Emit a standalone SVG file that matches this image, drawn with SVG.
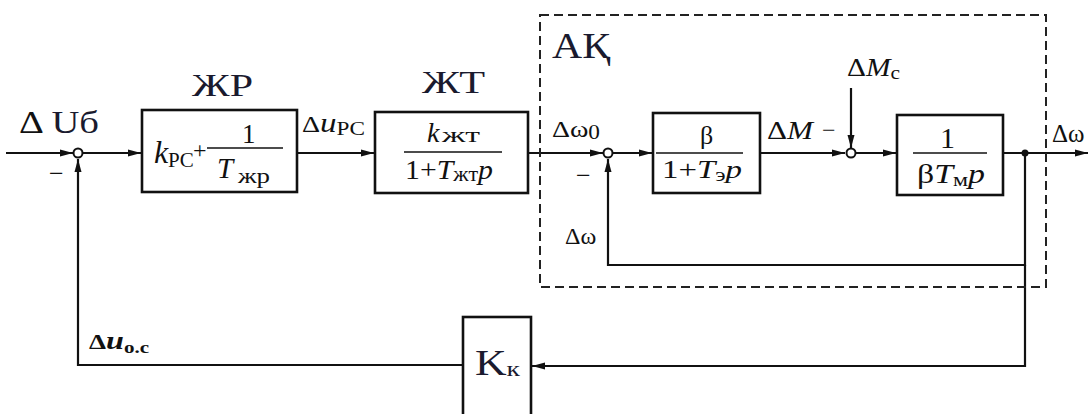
<svg xmlns="http://www.w3.org/2000/svg" width="1089" height="414" viewBox="0 0 1089 414">
<style>
.ln{fill:none;stroke:#111;stroke-width:2.2}
.bx{fill:#fff;stroke:#111;stroke-width:2.6}
.sj{fill:#fff;stroke:#111;stroke-width:2}
.t{font-family:"Liberation Serif",serif;fill:#111}
.i{font-style:italic}
.big{font-family:"Liberation Serif",serif;fill:#1a1a2e}
.frac{stroke:#111;stroke-width:1.6}
</style>
<defs>
<marker id="ar" markerWidth="14" markerHeight="10" refX="13" refY="5" orient="auto" markerUnits="userSpaceOnUse">
<path d="M0,1.5 L13,5 L0,8.5 Z" fill="#111"/>
</marker>
</defs>

<g id="connectors">
<line class="ln" x1="6" y1="153" x2="73" y2="153" marker-end="url(#ar)"/>
<line class="ln" x1="83" y1="153" x2="141" y2="153" marker-end="url(#ar)"/>
<line class="ln" x1="297" y1="153" x2="374" y2="153" marker-end="url(#ar)"/>
<line class="ln" x1="528" y1="153" x2="603" y2="153" marker-end="url(#ar)"/>
<line class="ln" x1="613" y1="153" x2="652" y2="153" marker-end="url(#ar)"/>
<line class="ln" x1="760" y1="153" x2="845" y2="153" marker-end="url(#ar)"/>
<line class="ln" x1="855" y1="153" x2="896" y2="153" marker-end="url(#ar)"/>
<line class="ln" x1="851" y1="88" x2="851" y2="148" marker-end="url(#ar)"/>
<line class="ln" x1="1003" y1="153" x2="1088" y2="153" marker-end="url(#ar)"/>
<polyline class="ln" points="1025,153 1025,265 608,265 608,159" marker-end="url(#ar)"/>
<polyline class="ln" points="1025,265 1025,366 532,366" marker-end="url(#ar)"/>
<polyline class="ln" points="463,365 78,365 78,159" marker-end="url(#ar)"/>
<circle cx="1025" cy="153" r="3.5" fill="#111"/>
</g>

<g id="ak">
<rect x="540" y="15" width="506" height="272" fill="none" stroke="#222" stroke-width="2" stroke-dasharray="9,5"/>
<text class="big" x="552" y="58" font-size="35" textLength="58" lengthAdjust="spacingAndGlyphs">АҚ</text>
</g>

<g id="sum1">
<circle class="sj" cx="78" cy="153" r="4.5"/>
<text class="t" x="19" y="133" font-size="32" textLength="80" lengthAdjust="spacingAndGlyphs">Δ <tspan fill="#1a1a2e">Uб</tspan></text>
<text class="t" x="49" y="182" font-size="26">−</text>
</g>

<g id="zhr">
<text class="big" x="192" y="96" font-size="31" textLength="61" lengthAdjust="spacingAndGlyphs">ЖР</text>
<rect class="bx" x="142" y="110" width="155" height="82"/>
<text class="t i" x="154" y="163" font-size="32">k</text>
<text class="t" x="168" y="167" font-size="21">PC</text>
<text class="t" x="193" y="158" font-size="24">+</text>
<line class="frac" x1="207" y1="148" x2="283" y2="148"/>
<text class="t" x="242" y="143" font-size="27">1</text>
<text class="t i" x="217" y="178" font-size="29">T</text>
<text class="t" x="238" y="183" font-size="22" textLength="32" lengthAdjust="spacingAndGlyphs">жр</text>
</g>

<g id="lbl-upc">
<text class="t" x="302" y="132" font-size="23" textLength="63" lengthAdjust="spacingAndGlyphs">Δ<tspan class="i" font-size="27">u</tspan><tspan font-size="19" dy="3">PC</tspan></text>
</g>

<g id="zht">
<text class="big" x="422" y="93" font-size="31" textLength="63" lengthAdjust="spacingAndGlyphs">ЖТ</text>
<rect class="bx" x="375" y="112" width="153" height="81"/>
<text class="t i" x="427" y="142" font-size="28">k</text>
<text class="t" x="442" y="142" font-size="21" textLength="38" lengthAdjust="spacingAndGlyphs">жт</text>
<line class="frac" x1="404" y1="152" x2="502" y2="152"/>
<text class="t" x="405" y="179" font-size="27" textLength="88" lengthAdjust="spacingAndGlyphs">1+<tspan class="i">T</tspan><tspan font-size="20" dy="2">жт</tspan><tspan class="i" dy="-2">p</tspan></text>
</g>

<g id="sum2">
<text class="t" x="552" y="137" font-size="24" textLength="48" lengthAdjust="spacingAndGlyphs">Δω<tspan font-size="20" dy="2">0</tspan></text>
<circle class="sj" cx="608" cy="153" r="4.5"/>
<text class="t" x="576" y="184" font-size="26">−</text>
<text class="t" x="565" y="244" font-size="24">Δω</text>
</g>

<g id="ke">
<rect class="bx" x="653" y="113" width="107" height="80"/>
<text class="t" x="700" y="144" font-size="26">β</text>
<line class="frac" x1="656" y1="153" x2="743" y2="153"/>
<text class="t" x="662" y="178" font-size="26" textLength="80" lengthAdjust="spacingAndGlyphs">1+<tspan class="i">T</tspan><tspan font-size="19" dy="3">э</tspan><tspan class="i" dy="-3">p</tspan></text>
</g>

<g id="sum3">
<text class="t" x="767" y="139" font-size="26" textLength="46" lengthAdjust="spacingAndGlyphs">Δ<tspan class="i">M</tspan></text>
<text class="t" x="822" y="138" font-size="24">−</text>
<text class="t" x="847" y="76" font-size="26" textLength="53" lengthAdjust="spacingAndGlyphs">Δ<tspan class="i">M</tspan><tspan font-size="19" dy="3">с</tspan></text>
<circle class="sj" cx="851" cy="153" r="4.5"/>
</g>

<g id="km">
<rect class="bx" x="897" y="115" width="106" height="80"/>
<text class="t" x="940" y="148" font-size="30">1</text>
<line class="frac" x1="913" y1="153" x2="987" y2="153"/>
<text class="t" x="917" y="183" font-size="27" textLength="68" lengthAdjust="spacingAndGlyphs">β<tspan class="i">T</tspan><tspan font-size="19" dy="3">м</tspan><tspan class="i" dy="-3">p</tspan></text>
</g>

<g id="out">
<text class="t" x="1052" y="142" font-size="25">Δω</text>
</g>

<g id="kk">
<rect class="bx" x="463" y="317" width="68" height="100"/>
<text class="big" x="475" y="375" font-size="35" textLength="45" lengthAdjust="spacingAndGlyphs">K<tspan font-size="22" dy="1">к</tspan></text>
<text class="t" x="89" y="349" font-size="22" font-weight="bold" textLength="60" lengthAdjust="spacingAndGlyphs">Δ<tspan class="i" font-size="26">u</tspan><tspan font-size="17" dy="4">o.c</tspan></text>
</g>
</svg>
